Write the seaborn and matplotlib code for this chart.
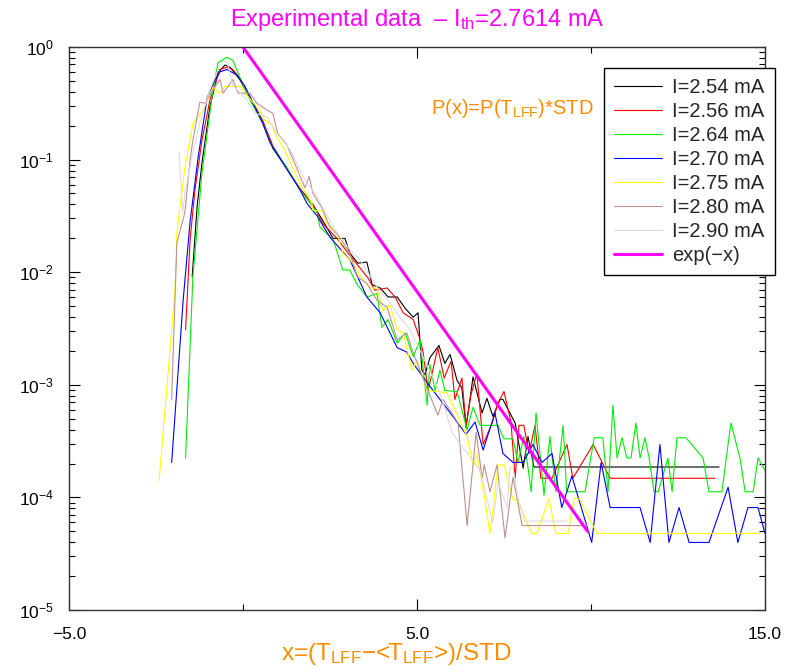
import matplotlib
matplotlib.use("Agg")
import matplotlib.pyplot as plt
import matplotlib.ticker as mticker
import numpy as np
import seaborn as sns

# ---------------------------------------------------------------------------
# Data (x, log10 P)
# ---------------------------------------------------------------------------
x_254 = [-1.46, -1.32, -1.18, -0.95, -0.72, -0.52, -0.37, -0.09, 0.57, 0.86, 1.15, 1.64, 2.01, 2.27,
         2.59, 2.93, 3.07, 3.30, 3.56, 3.71, 3.94, 4.17, 4.43, 4.66, 4.89, 5.03, 5.14, 5.23, 5.37, 5.63,
         5.80, 5.95, 6.15, 6.29, 6.41, 6.61, 6.87, 7.01, 7.18, 7.39, 7.47, 7.82, 8.05, 8.19, 8.36, 13.68]
lg_254 = [-2.04, -1.42, -1.03, -0.53, -0.23, -0.16, -0.18, -0.29, -0.66, -0.90, -1.03, -1.26, -1.40, -1.53,
          -1.70, -1.70, -1.83, -1.92, -1.91, -2.11, -2.14, -2.22, -2.22, -2.32, -2.40, -2.36, -2.87, -2.91,
          -2.76, -2.65, -2.81, -2.73, -2.96, -3.03, -3.38, -2.93, -3.25, -3.12, -3.28, -3.13, -3.13, -3.34,
          -3.74, -3.46, -3.73, -3.73]

x_256 = [-1.65, -1.52, -1.38, -1.18, -0.95, -0.66, -0.46, -0.29, -0.09, 0.57, 0.86, 1.15, 1.64, 2.01,
         2.30, 2.70, 3.07, 3.59, 3.79, 4.14, 4.37, 4.60, 4.89, 5.09, 5.17, 5.32, 5.60, 5.78, 5.98, 6.09,
         6.29, 6.41, 6.55, 6.72, 6.90, 7.16, 7.33, 7.50, 7.70, 7.82, 7.93, 8.07, 8.22, 8.39, 8.56, 8.88,
         9.31, 9.48, 10.06, 10.55, 13.56]
lg_256 = [-2.51, -1.71, -1.27, -0.83, -0.47, -0.20, -0.18, -0.20, -0.28, -0.66, -0.88, -1.03, -1.26, -1.40,
          -1.57, -1.70, -1.85, -2.05, -2.16, -2.14, -2.22, -2.36, -2.42, -2.60, -2.70, -3.05, -2.67, -2.94,
          -2.79, -3.13, -2.94, -3.36, -3.09, -2.90, -3.53, -3.34, -3.16, -3.06, -3.33, -3.83, -3.36, -3.36,
          -3.61, -3.36, -3.83, -3.83, -3.53, -3.83, -3.53, -3.83, -3.83]

x_264 = [-1.65, -1.44, -1.18, -0.89, -0.72, -0.46, -0.29, -0.09, 0.20, 0.57, 0.78, 1.26, 1.64, 2.13,
         2.21, 2.59, 2.87, 3.07, 3.28, 3.56, 3.85, 3.99, 4.17, 4.43, 4.66, 4.89, 5.09, 5.29, 5.37, 5.52,
         5.66, 5.80, 6.15, 6.44, 6.61, 6.81, 7.33, 7.50, 7.76, 7.90, 8.07, 8.28, 8.42, 8.65, 8.82, 8.99,
         9.20, 9.30, 9.83, 10.09, 10.34, 10.49, 10.63, 10.75, 10.89, 11.03, 11.15, 11.29, 11.41, 11.55,
         11.67, 11.81, 11.93, 12.21, 12.33, 12.47, 12.73, 13.22, 13.39, 13.76, 14.02, 14.28, 14.43, 14.66,
         14.80, 15.0]
lg_264 = [-3.65, -2.04, -1.12, -0.44, -0.14, -0.09, -0.12, -0.27, -0.47, -0.68, -0.85, -1.07, -1.27, -1.47,
          -1.60, -1.71, -1.98, -1.98, -2.11, -2.22, -2.19, -2.49, -2.42, -2.63, -2.54, -2.75, -2.60, -3.18,
          -2.82, -3.05, -2.87, -3.05, -3.06, -3.40, -3.20, -3.36, -3.36, -3.48, -3.48, -3.69, -3.46, -3.95,
          -3.25, -3.98, -3.46, -3.95, -3.36, -3.95, -3.95, -3.47, -3.47, -3.95, -3.18, -3.65, -3.47, -3.65,
          -3.65, -3.34, -3.65, -3.47, -3.65, -3.95, -3.95, -3.65, -3.95, -3.47, -3.47, -3.65, -3.95, -3.95,
          -3.34, -3.65, -3.95, -3.95, -3.65, -3.76]

x_270 = [-2.05, -1.72, -1.52, -1.29, -1.03, -0.80, -0.66, -0.46, -0.17, 0.06, 0.57, 0.78, 1.15, 1.64,
         1.84, 2.13, 2.50, 3.07, 3.56, 3.94, 4.43, 4.71, 4.89, 5.29, 6.03, 6.41, 6.67, 6.90, 7.24, 7.47,
         7.76, 8.05, 8.33, 8.59, 8.88, 9.16, 9.45, 10.02, 10.29, 10.55, 11.41, 11.70, 11.98, 12.24, 12.53,
         12.82, 13.39, 13.94, 14.22, 14.51, 14.80, 15.0]
lg_270 = [-3.69, -2.25, -1.55, -0.98, -0.45, -0.29, -0.22, -0.20, -0.25, -0.35, -0.68, -0.85, -1.03, -1.27,
          -1.39, -1.50, -1.69, -1.89, -2.22, -2.36, -2.67, -2.71, -2.81, -2.98, -3.28, -3.44, -3.33, -3.58,
          -3.25, -3.61, -3.69, -3.69, -3.53, -3.69, -3.61, -4.09, -3.81, -4.40, -3.69, -4.09, -4.09, -4.40,
          -3.53, -4.40, -4.09, -4.40, -4.40, -3.91, -4.40, -4.09, -4.09, -4.32]

x_275 = [-2.41, -1.95, -1.90, -1.67, -1.44, -1.15, -0.86, -0.66, -0.52, -0.37, -0.09, 0.14, 0.40, 0.63,
         0.83, 0.92, 1.15, 1.64, 1.98, 2.01, 2.30, 2.41, 2.70, 2.87, 3.16, 3.45, 3.65, 3.85, 4.02, 4.22,
         4.43, 4.60, 4.86, 5.00, 5.29, 5.86, 6.03, 6.44, 6.61, 6.72, 6.87, 7.10, 7.33, 7.50, 7.76, 7.87,
         8.30, 8.45, 8.79, 8.99, 9.34, 9.51, 9.66, 10.17, 14.86]
lg_275 = [-3.85, -2.14, -1.64, -1.07, -0.68, -0.56, -0.36, -0.41, -0.35, -0.35, -0.35, -0.44, -0.53, -0.65,
          -0.69, -0.77, -0.89, -1.21, -1.39, -1.45, -1.46, -1.57, -1.65, -1.83, -1.92, -2.07, -2.14, -2.14,
          -2.34, -2.29, -2.51, -2.54, -2.87, -2.78, -3.05, -3.07, -3.18, -3.46, -3.71, -3.62, -3.87, -4.32,
          -3.71, -3.71, -4.02, -4.02, -4.32, -4.32, -4.01, -4.32, -4.32, -4.01, -4.01, -4.32, -4.32]

x_280 = [-2.05, -1.90, -1.67, -1.52, -1.44, -1.24, -1.09, -0.80, -0.66, -0.57, -0.29, -0.14, 0.20, 0.40,
         0.69, 0.86, 1.00, 1.26, 1.44, 1.78, 1.90, 2.01, 2.27, 2.50, 2.73, 3.07, 3.28, 3.56, 3.85, 4.14,
         4.43, 4.71, 4.86, 5.17, 5.60, 5.75, 6.18, 6.44, 6.70, 6.87, 6.93, 7.10, 7.30, 7.53, 7.76, 8.02, 9.89]
lg_280 = [-3.13, -1.74, -1.47, -1.00, -0.83, -0.49, -0.50, -0.35, -0.29, -0.41, -0.29, -0.41, -0.41, -0.50,
          -0.56, -0.59, -0.77, -0.87, -1.00, -1.25, -1.15, -1.30, -1.43, -1.60, -1.67, -1.83, -2.04, -2.10,
          -2.25, -2.31, -2.60, -2.54, -2.69, -2.94, -3.27, -3.13, -3.34, -4.25, -3.42, -3.83, -3.71, -3.95,
          -3.71, -4.36, -3.82, -4.25, -4.25]

x_290 = [-1.84, -1.73, -1.67, -1.47, -1.24, -0.95, -0.66, -0.57, -0.46, -0.29, 0.11, 0.34, 0.69, 0.98,
         1.35, 1.78, 2.13, 2.59, 3.07, 3.36, 3.85, 4.22, 4.51, 4.80, 5.17, 5.66, 6.01, 6.81, 7.18, 7.33,
         7.59, 7.67, 7.76, 7.90, 8.10, 9.31]
lg_290 = [-0.93, -1.47, -1.30, -0.98, -0.67, -0.38, -0.16, -0.13, -0.13, -0.34, -0.47, -0.59, -0.62, -0.77,
          -0.91, -1.18, -1.33, -1.60, -1.80, -1.89, -2.13, -2.27, -2.40, -2.51, -2.75, -3.07, -3.43, -3.76,
          -4.23, -3.87, -4.09, -3.74, -3.74, -4.00, -4.21, -4.21]

x_exp = [0.0, 9.9]
y_exp = [1.0, 5.0e-5]

series = [
    ("I=2.54 mA", x_254, lg_254, "#000000"),
    ("I=2.56 mA", x_256, lg_256, "#ff0000"),
    ("I=2.64 mA", x_264, lg_264, "#00ee00"),
    ("I=2.70 mA", x_270, lg_270, "#0000ff"),
    ("I=2.75 mA", x_275, lg_275, "#ffff00"),
    ("I=2.80 mA", x_280, lg_280, "#c09090"),
    ("I=2.90 mA", x_290, lg_290, "#dcdcdc"),
]

MAGENTA = "#ff00ff"
ORANGE = "#ff8c00"

sns.set_theme(style="ticks")
plt.rcParams["font.family"] = ["Liberation Sans", "DejaVu Sans"]
plt.rcParams["mathtext.fontset"] = "custom"
plt.rcParams["mathtext.rm"] = "Liberation Sans"
plt.rcParams["mathtext.it"] = "Liberation Sans:italic"
plt.rcParams["axes.unicode_minus"] = True

fig = plt.figure(figsize=(7.85, 6.67), dpi=100)
ax = fig.add_axes([69 / 785, 57 / 667, 696 / 785, 563 / 667])

for label, xs, lgs, color in series:
    sns.lineplot(x=xs, y=10.0 ** np.array(lgs), ax=ax, color=color, lw=0.8,
                 label=label, sort=False, estimator=None)
sns.lineplot(x=x_exp, y=y_exp, ax=ax, color=MAGENTA, lw=2.2, label="exp(\u2212x)",
             sort=False, estimator=None)

ax.set_yscale("log")
ax.set_xlim(-5, 15)
ax.set_ylim(1e-5, 1)

ax.xaxis.set_major_locator(mticker.FixedLocator([-5, 5, 15]))
ax.xaxis.set_minor_locator(mticker.FixedLocator([0, 10]))
ax.xaxis.set_major_formatter(mticker.FuncFormatter(lambda v, p: f"{v:.1f}".replace("-", "\u2212")))
ax.yaxis.set_major_locator(mticker.LogLocator(base=10, numticks=10))
ax.yaxis.set_minor_locator(mticker.LogLocator(base=10, subs=np.arange(2, 10), numticks=10))
ax.yaxis.set_minor_formatter(mticker.NullFormatter())

ax.tick_params(which="both", direction="in", top=True, right=True, colors="black",
               labelsize=12.5, width=0.8)
ax.tick_params(which="major", length=8)
ax.tick_params(which="minor", length=4)
ax.tick_params(axis="x", which="major", pad=12.5)
ax.tick_params(axis="y", which="major", pad=11)
for sp in ax.spines.values():
    sp.set_color("#333333")
    sp.set_linewidth(1.0)

ax.set_xlabel("x=(T$_{\\rm LFF}$\u2212<T$_{\\rm LFF}$>)/STD", color=ORANGE, fontsize=17.5)
ax.xaxis.set_label_coords((396 - 69) / 696, -(641 - 610) / 563)
ax.set_title("Experimental data  \u2013 I$_{\\rm th}$=2.7614 mA", color=MAGENTA, fontsize=17, pad=15)
ax.text((512 - 69) / 696, (610 - 109) / 563, "P(x)=P(T$_{\\rm LFF}$)*STD", transform=ax.transAxes,
        color=ORANGE, fontsize=14.5, ha="center", va="center")

leg = ax.legend(loc="upper left", bbox_to_anchor=((604 - 69) / 696, (610 - 68) / 563), fontsize=14.5,
                frameon=True, fancybox=False, edgecolor="black", framealpha=1, handlelength=2.4,
                handletextpad=0.5, borderpad=0.5, labelspacing=0.25, borderaxespad=0)
leg.get_frame().set_linewidth(1.0)

fig.savefig("out.png", dpi=100)
